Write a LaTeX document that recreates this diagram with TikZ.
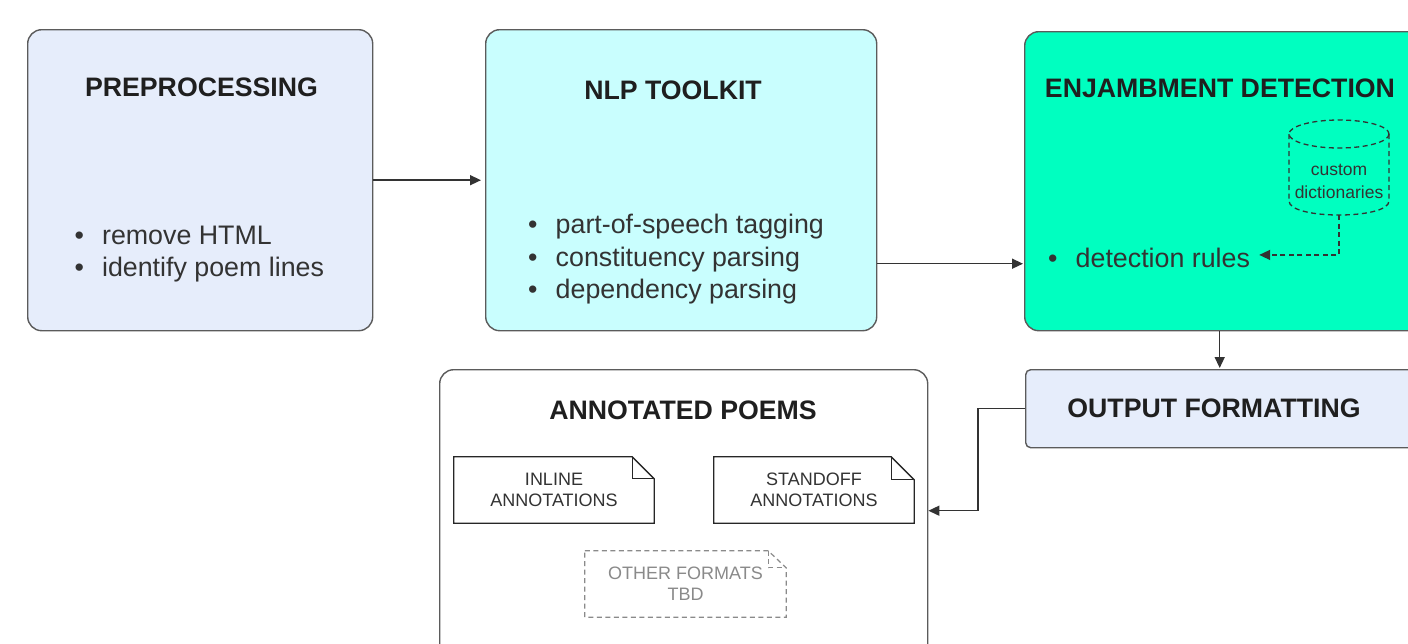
\documentclass[tikz,border=0pt]{standalone}
\usepackage{fontspec}
\setmainfont{Liberation Sans}
\usetikzlibrary{arrows.meta}
\definecolor{lav}{HTML}{E6EDFB}
\definecolor{cyanl}{HTML}{C9FEFE}
\definecolor{mint}{HTML}{00FFC0}
\definecolor{edge}{HTML}{5B5B5B}
\definecolor{ink}{HTML}{333333}
\definecolor{head}{HTML}{1F1F1F}
\definecolor{faint}{HTML}{8A8A8A}
\newcommand{\bul}{\makebox[27.5pt][l]{•}}
\begin{document}
\begin{tikzpicture}[x=1pt,y=-1pt,
  panel/.style={draw=edge, line width=1.4pt, rounded corners=14pt, anchor=north west, inner sep=0pt},
  title/.style={font=\fontsize{26.7}{32}\selectfont\bfseries, text=head, inner sep=0pt},
  bullets/.style={font=\fontsize{26.8}{32.5}\selectfont, text=ink, align=left, inner sep=0pt},
  small/.style={font=\fontsize{18}{21}\selectfont, text=ink, align=center, inner sep=0pt},
  notebox/.style={minimum width=200pt, minimum height=66pt, inner sep=0pt},
  notedraw/.style={draw=black!85, line width=1.3pt},
  conn/.style={draw=ink, line width=1.5pt, -{Triangle[length=11pt,width=10pt]}},
  dconn/.style={draw=ink, line width=1.4pt, dash pattern=on 5pt off 3.5pt, -{Triangle[length=11pt,width=10pt]}}]
\useasboundingbox (0,0) rectangle (1408,643);
\clip (0,0) rectangle (1408,643);
\fill[white] (0,0) rectangle (1408,643);

% panels
\node[panel, fill=lav, minimum width=345pt, minimum height=301pt] (pre) at (27,29) {};
\node[panel, fill=cyanl, minimum width=391pt, minimum height=301pt] (nlp) at (485,29) {};
\node[panel, fill=mint, minimum width=400pt, minimum height=299pt] (enj) at (1024,31) {};
\node[panel, fill=lav, rounded corners=5pt, minimum width=400pt, minimum height=78pt] (out) at (1025,369) {};
\node[panel, fill=white, minimum width=488pt, minimum height=300pt] (ann) at (439,369) {};

% titles
\node[title] (preT) at (201.5,87) {PREPROCESSING};
\node[title] (nlpT) at (673,90) {NLP TOOLKIT};
\node[title] (enjT) at (1220,88) {ENJAMBMENT DETECTION};
\node[title] (outT) at (1214,408.5) {OUTPUT FORMATTING};
\node[title] (annT) at (683,410.5) {ANNOTATED POEMS};

% bullet lists
\node[bullets, anchor=west] (preL) at (74.4,254) {\bul remove HTML\\\bul identify poem lines};
\node[bullets, anchor=west] (nlpL) at (528,259.5) {\bul part-of-speech tagging\\\bul constituency parsing\\\bul dependency parsing};
\node[bullets, anchor=base west] (rules) at (1048,267.5) {\bul detection rules};

% cylinder
\draw[draw=ink, line width=1.3pt, dash pattern=on 5pt off 3.5pt] (1339,134) ellipse [x radius=50, y radius=14];
\draw[draw=ink, line width=1.3pt, dash pattern=on 5pt off 3.5pt] (1289,134) -- (1289,201) .. controls (1289,219.7) and (1389,219.7) .. (1389,201) -- (1389,134);
\node[small, font=\fontsize{17.5}{23}\selectfont] (cylT) at (1339,181) {custom\\dictionaries};
\coordinate (cylb) at (1339,215);

% notes
\node[notebox, small] (inl) at (554,490) {INLINE\\ANNOTATIONS};
\node[notebox, small] (sto) at (814,490) {STANDOFF\\ANNOTATIONS};
\node[notebox, small, text=faint, minimum width=201pt] (oth) at (685.5,584) {OTHER FORMATS\\TBD};
\foreach \n/\f in {inl/22,sto/23}{
  \draw[notedraw] (\n.north west) -- ([xshift=-\f pt]\n.north east) -- ([yshift=-\f pt]\n.north east) -- (\n.south east) -- (\n.south west) -- cycle;
  \draw[notedraw] ([xshift=-\f pt]\n.north east) -- ([xshift=-\f pt,yshift=-\f pt]\n.north east) -- ([yshift=-\f pt]\n.north east);
}
\draw[draw=faint, line width=1.2pt, dash pattern=on 5pt off 3.5pt] (oth.north west) -- ([xshift=-18pt]oth.north east) -- ([yshift=-17pt]oth.north east) -- (oth.south east) -- (oth.south west) -- cycle;
\draw[draw=faint, line width=1.2pt, dash pattern=on 5pt off 3.5pt] ([xshift=-18pt]oth.north east) -- ([xshift=-18pt,yshift=-17pt]oth.north east) -- ([yshift=-17pt]oth.north east);

% connectors
\draw[conn, shorten >=4pt] (pre.east) -- (nlp.west);
\draw[conn, shorten >=1pt] ([yshift=-83.5pt]nlp.east) -- ([yshift=-83.5pt]nlp.east -| enj.west);
\draw[conn, shorten >=1pt] ([xshift=-5pt]enj.south) -- ([xshift=-5pt]enj.south |- out.north);
\draw[conn] (out.west) -- ++(-47,0) |- ([yshift=9pt]ann.east);
\draw[dconn] (cylb) |- ([xshift=9pt,yshift=3pt]rules.east);
\end{tikzpicture}
\end{document}
